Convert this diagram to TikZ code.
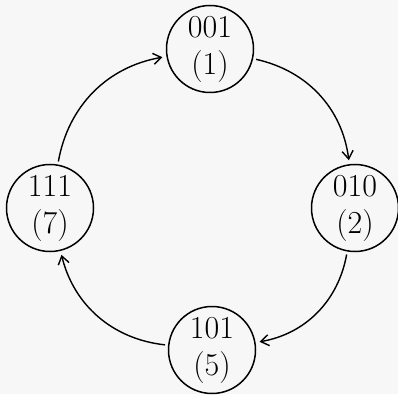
\documentclass[tikz,border=0pt]{standalone}
\usetikzlibrary{arrows.meta}
\tikzset{st/.style = {circle, line width=1.5pt, minimum size=87pt, inner sep=0pt, draw, align=center,
                      font=\fontsize{32}{37}\selectfont}}

\begin{document}
\begin{tikzpicture}[x=1pt, y=1pt, >={Straight Barb[length=8pt, width=11pt, line width=1.4pt]}, bend angle=35]
    \useasboundingbox[fill=gray!6] (0,0) rectangle (398,394);
    \node[st] (a) at (210,345) {001\\(1)};
    \node[st] (b) at (355,186) {010\\(2)};
    \node[st] (c) at (212,44) {101\\(5)};
    \node[st] (d) at (50,186) {111\\(7)};
    \draw[->, line width=1.4pt, shorten <=3pt, shorten >=4pt] (a) to[bend left] (b);
    \draw[->, line width=1.4pt, shorten <=3pt, shorten >=4pt] (b) to[bend left] (c);
    \draw[->, line width=1.4pt, shorten <=3pt, shorten >=4pt] (c) to[bend left] (d);
    \draw[->, line width=1.4pt, shorten <=3pt, shorten >=4pt] (d) to[bend left] (a);
  \end{tikzpicture}
\end{document}
